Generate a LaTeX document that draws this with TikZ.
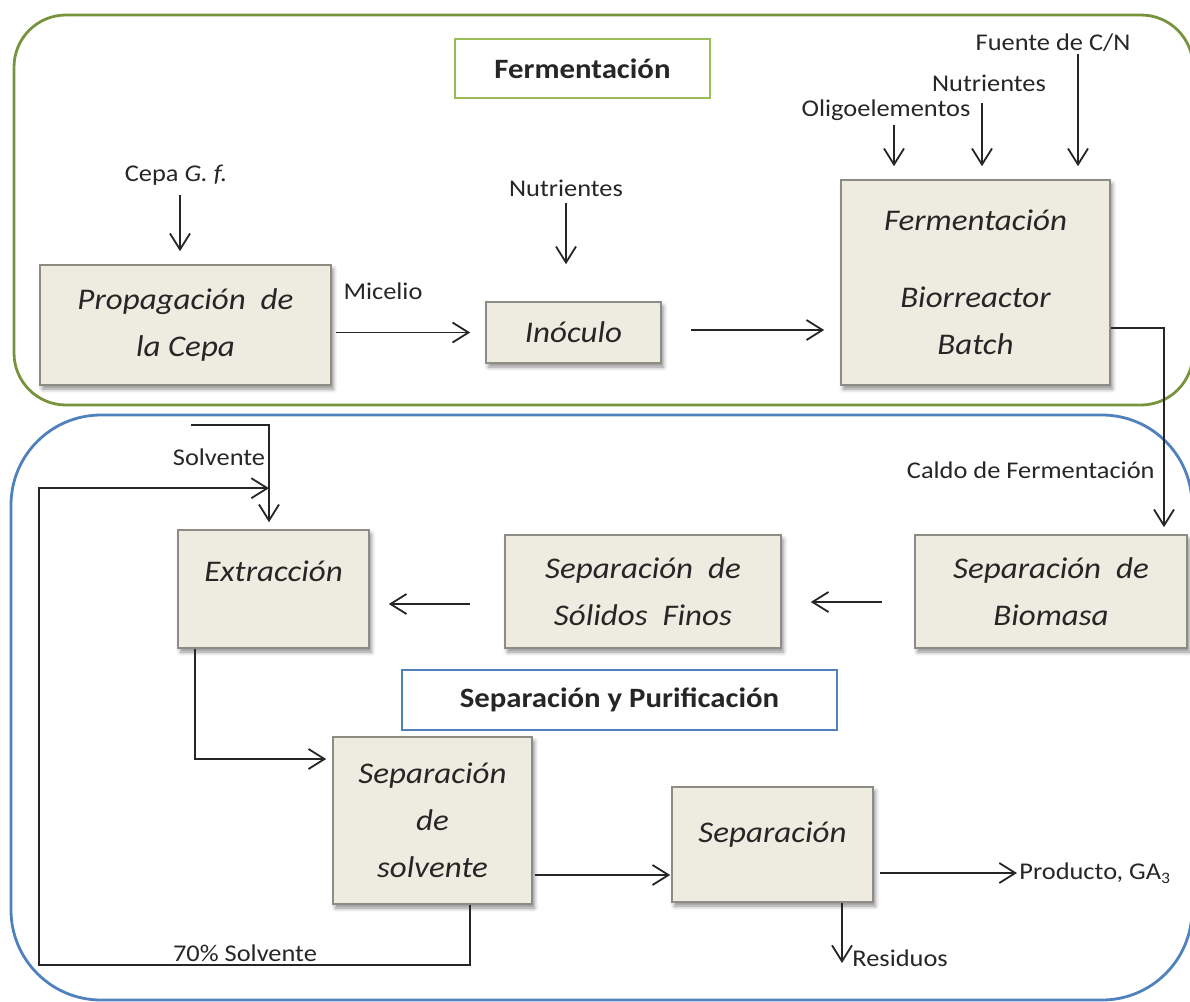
\documentclass[tikz,border=0pt]{standalone}
\usepackage{fontspec}
\setmainfont{Carlito}[FakeStretch=1.1]
\usepackage{tikz}
\usetikzlibrary{arrows.meta,positioning,shadows.blur}
\definecolor{boxfill}{HTML}{EEECE1}
\definecolor{boxline}{HTML}{8C8C84}
\definecolor{fermgreen}{HTML}{77933C}
\definecolor{titlegreen}{HTML}{9BBB59}
\definecolor{sepblue}{HTML}{4F81BD}
\definecolor{ink}{HTML}{262626}
\begin{document}
\begin{tikzpicture}[x=0.5pt,y=-0.5pt,
  flow/.style={-{Straight Barb[length=8pt,width=10pt]},line width=0.9pt,ink},
  unit/.style={draw=boxline,fill=boxfill,line width=0.8pt,align=center,inner sep=2pt,
    font=\fontsize{15}{23.5}\selectfont\itshape,text=ink,
    blur shadow={shadow xshift=1.2pt,shadow yshift=-2pt,shadow blur radius=2pt,shadow opacity=45}},
  lbl/.style={font=\fontsize{12}{14}\selectfont,text=ink,inner sep=1pt},
  heading/.style={draw,fill=white,line width=0.7pt,font=\fontsize{14}{16}\selectfont\bfseries,text=ink}]
\useasboundingbox (0,0) rectangle (1190,1002);
\clip (0,0) rectangle (1190,1002);
\draw[fermgreen,line width=1.4pt,rounded corners=26pt] (14,15) rectangle (1193,405);
\draw[sepblue,line width=1.4pt,rounded corners=45pt] (11,415) rectangle (1192,1000);
\node[heading,draw=titlegreen,minimum width=127.5pt,minimum height=29.5pt] (tferm) at (582.5,68.5) {Fermentación};
\node[unit,minimum width=145.5pt,minimum height=60pt] (prop) at (185.5,325) {Propagación\ \ de\\la Cepa};
\node[unit,minimum width=87.5pt,minimum height=30.5pt] (inoc) at (573.5,332.5) {Inóculo};
\node[unit,minimum width=134.5pt,minimum height=102.5pt] (ferm) at (975.5,282.5) {Fermentación\\[15pt]Biorreactor\\Batch};
\node[unit,minimum width=136pt,minimum height=56.5pt] (biom) at (1051,591.5) {Separación\ \ de\\Biomasa};
\node[unit,minimum width=138pt,minimum height=56.5pt] (solid) at (643,591.5) {Separación\ \ de\\Sólidos\ \ Finos};
\node[unit,minimum width=95.5pt,minimum height=59pt,text depth=18pt] (extr) at (273.5,589) {Extracción};
\node[heading,draw=sepblue,minimum width=217.5pt,minimum height=30pt] (tsep) at (619.5,700) {Separación y Purificación};
\node[unit,minimum width=99.5pt,minimum height=83.5pt] (solv) at (432.5,820.5) {Separación\\de\\solvente};
\node[unit,minimum width=100.5pt,minimum height=57.5pt,text depth=12pt] (sepf) at (772.5,844.5) {Separación};
\node[lbl] (cepa) at (176,175) {Cepa \textit{G. f.}};
\node[lbl] (nutl) at (566,188) {Nutrientes};
\node[lbl] (olig) at (886,110) {Oligoelementos};
\node[lbl] (nutr) at (989,83) {Nutrientes};
\node[lbl] (fuente) at (1053,43) {Fuente de C/N};
\node[lbl] (mic) at (383,291) {Micelio};
\node[lbl,anchor=east] (caldo) at (1157,470) {Caldo de Fermentación};
\node[lbl] (solvl) at (219,457) {Solvente};
\node[lbl] (recl) at (245,953) {70\% Solvente};
\node[lbl,anchor=west] (prod) at (1017,873) {Producto, GA\textsubscript{3}};
\node[lbl,anchor=base west] (resid) at (850,966) {Residuos};
\coordinate (solvin) at (191,425);
\coordinate (loop) at (39,965);
\draw[flow,shorten <=3.5pt,shorten >=6.5pt] ([xshift=2pt]cepa.south) -- ([xshift=2pt]cepa.south |- prop.north);
\draw[flow,shorten <=2.3pt,shorten >=18.5pt] (nutl.south) -- (nutl.south |- inoc.north);
\draw[flow,shorten <=1pt,shorten >=6.5pt] ([xshift=4pt]olig.south) -- ([xshift=4pt]olig.south |- ferm.north);
\draw[flow,shorten <=4.8pt,shorten >=6.5pt] ([xshift=-3.5pt]nutr.south) -- ([xshift=-3.5pt]nutr.south |- ferm.north);
\draw[flow,shorten >=6.5pt] ([xshift=12.5pt]fuente.south) -- ([xshift=12.5pt]fuente.south |- ferm.north);
\draw[flow,shorten <=2pt,shorten >=7.5pt] (inoc.west -| prop.east) -- (inoc.west);
\draw[flow,shorten <=14.5pt,shorten >=8pt] ([yshift=1.25pt]inoc.east) -- ([yshift=1.25pt]inoc.east -| ferm.west);
\draw[flow,shorten >=3.5pt] ([yshift=-22.75pt]ferm.east) -| ([xshift=56.5pt]biom.north);
\draw[flow,shorten <=16pt,shorten >=14.5pt] ([yshift=-5.25pt]biom.west) -- ([yshift=-5.25pt]solid.east);
\draw[flow,shorten <=17pt,shorten >=9.5pt] ([yshift=-6.25pt]solid.west) -- ([yshift=-6.25pt]solid.west -| extr.east);
\draw[flow,shorten >=3.5pt] (solvin) -| ([xshift=-2.25pt]extr.north);
\draw[flow] ([xshift=18.75pt]solv.south) |- (loop) |- ([xshift=-2.25pt,yshift=20.5pt]extr.north);
\draw[flow,shorten >=3pt] ([xshift=-39.25pt]extr.south) |- ([yshift=30.75pt]solv.west);
\draw[flow,shorten <=1pt,shorten >=0.5pt] ([yshift=-27.25pt]solv.east) -- ([yshift=-27.25pt]solv.east -| sepf.west);
\draw[flow,shorten <=3pt] ([yshift=-14.25pt]sepf.east) -- ([yshift=-14.25pt]sepf.east -| prod.west);
\draw[flow,shorten >=1.5pt] ([xshift=34.75pt]sepf.south) -- ([xshift=34.75pt]sepf.south |- resid.base);
\end{tikzpicture}
\end{document}
